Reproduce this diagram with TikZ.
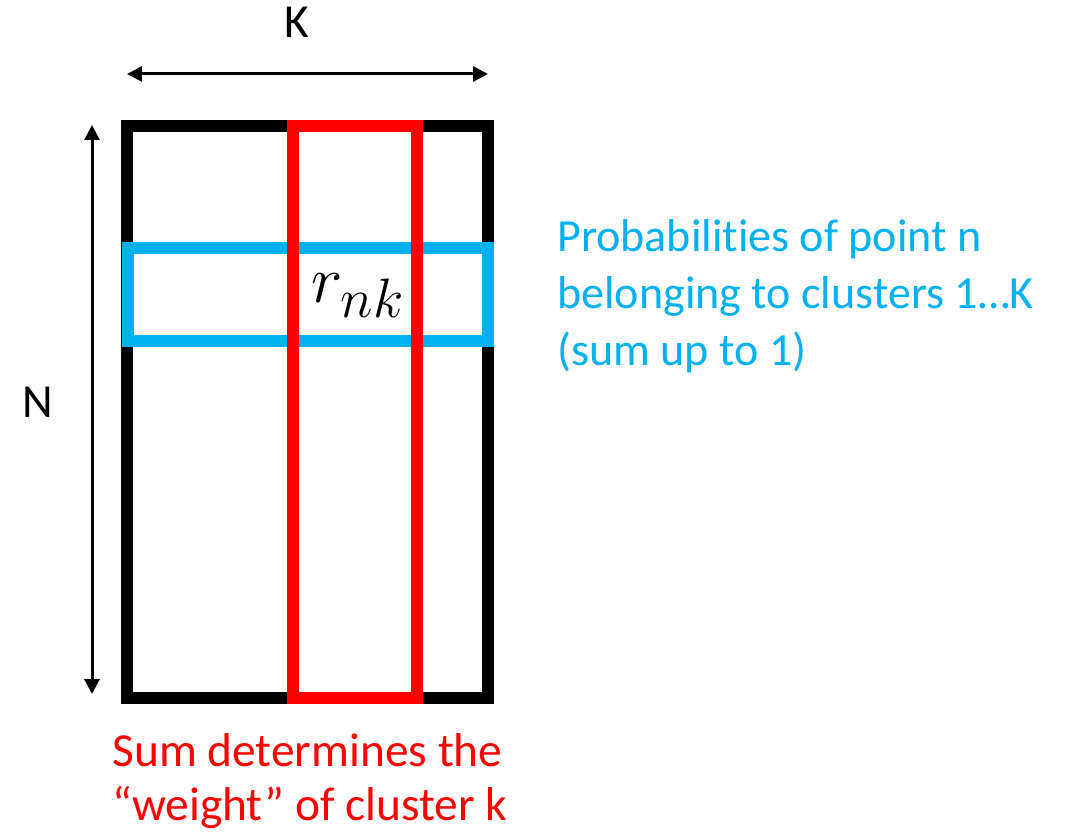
\documentclass[tikz,border=0pt]{standalone}
\usepackage{graphicx}
\usepackage{fontspec}
\setmainfont{Carlito}[Ligatures=NoCommon]
\usetikzlibrary{arrows.meta}
\definecolor{rowblue}{RGB}{0,176,240}
\definecolor{colred}{RGB}{255,0,0}
\tikzset{
	box/.style={draw, line width=0.24cm, inner sep=0pt},
	dimarrow/.style={<->, line width=0.06cm},
	lbl/.style={font=\fontsize{27}{30.3}\selectfont, inner sep=0pt},
}

\begin{document}
\begin{tikzpicture}[x=0.02cm, y=-0.02cm, >={Triangle[length=0.3cm, width=0.3cm]}]
\useasboundingbox (0,0) rectangle (1084,831);

% matrix, its row n and its column k
\node (R) [box, black, minimum width=7.22cm, minimum height=11.44cm] at (307.5,412) {};
\node (row) [box, rowblue, minimum width=7.2cm, minimum height=1.866cm] at (307.6,294.4) {};
\node (col) [box, colred, minimum width=2.49cm, minimum height=11.44cm] at (354.75,412) {};
\node (rnk) [inner sep=0pt, anchor=base] at (358,302)
	{\scalebox{1.83}{\fontsize{20.74}{20.74}\selectfont $r_{\hbox{\fontsize{17.28}{17.28}\selectfont$nk$}}$}};

% sizes
\coordinate (kl) at (127,74);
\coordinate (kr) at (488,74);
\coordinate (nt) at (92,125);
\coordinate (nb) at (92,694);
\draw [dimarrow] (kl) -- (kr);
\draw [dimarrow] (nt) -- (nb);
\node (K) [lbl] at (297,22.5) {K};
\node (N) [lbl] at (38.3,402.5) {N};

% notes
\node (rownote) [lbl, rowblue, align=left, anchor=base west, font=\fontsize{26.2}{32.3}\selectfont] at (557,365)
	{Probabilities of point n\\belonging to clusters 1\dots K\\(sum up to 1)};
\node (colnote) [lbl, colred, align=left, anchor=base west] at (112,820)
	{Sum determines the\\“weight” of cluster k};
\end{tikzpicture}
\end{document}
